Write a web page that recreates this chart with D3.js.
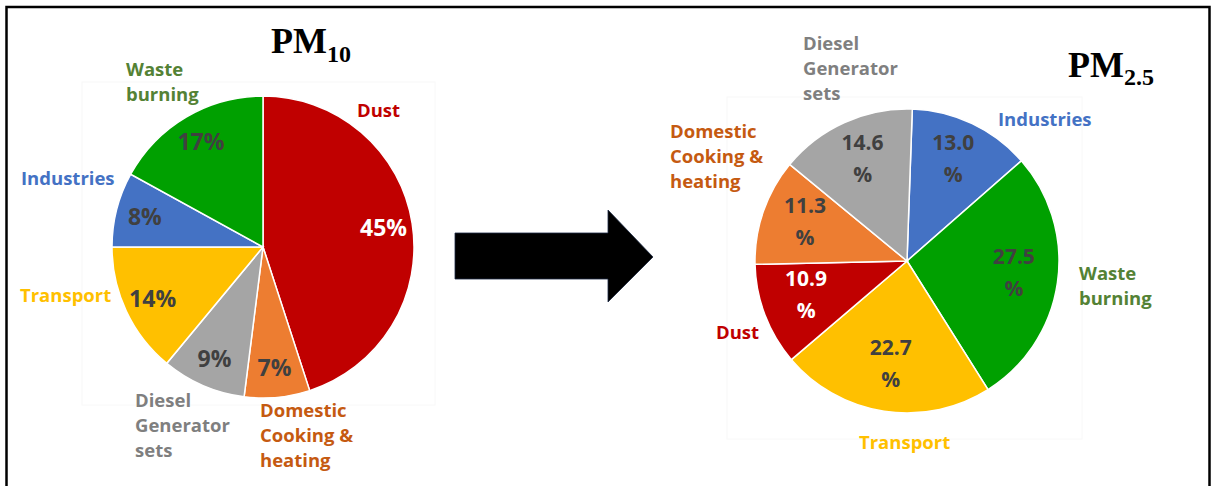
<!DOCTYPE html>
<html>
<head>
<meta charset="utf-8">
<script src="https://cdn.jsdelivr.net/npm/d3@7"></script>
<style>
  body { margin: 0; background: #fff; }
  svg { display: block; }
</style>
</head>
<body>
<svg id="chart" width="1219" height="486"></svg>
<script>
// ---- Data: share of each source (%) ----
const pm10Sources = ["Dust", "Domestic Cooking & heating", "Diesel Generator sets", "Transport", "Industries", "Waste burning"];
const pm10Shares  = [45, 7, 9, 14, 8, 17];

const pm25Sources = ["Industries", "Waste burning", "Transport", "Dust", "Domestic Cooking & heating", "Diesel Generator sets"];
const pm25Shares  = [13.0, 27.5, 22.7, 10.9, 11.3, 14.6];

// ---- Styling ----
const sliceColor = d3.scaleOrdinal()
  .domain(["Dust", "Domestic Cooking & heating", "Diesel Generator sets", "Transport", "Industries", "Waste burning"])
  .range(["#c00000", "#ed7d31", "#a5a5a5", "#ffc000", "#4472c4", "#00a000"]);

const nameColor = d3.scaleOrdinal()
  .domain(sliceColor.domain())
  .range(["#c00000", "#c55a11", "#7f7f7f", "#ffc000", "#4472c4", "#548235"]);

const nameLines = {
  "Dust": ["Dust"],
  "Domestic Cooking & heating": ["Domestic", "Cooking &", "heating"],
  "Diesel Generator sets": ["Diesel", "Generator", "sets"],
  "Transport": ["Transport"],
  "Industries": ["Industries"],
  "Waste burning": ["Waste", "burning"]
};

const svg = d3.select("#chart");

// outer frame
svg.append("rect")
  .attr("x", 6.5).attr("y", 7).attr("width", 1203).attr("height", 520)
  .attr("fill", "none").attr("stroke", "#000").attr("stroke-width", 2.5);

const panels = [
  {
    sources: pm10Sources, shares: pm10Shares,
    cx: 263, cy: 247, r: 151, start: 0, labelR: 122,
    area: [82, 82, 353, 323],
    title: { x: 271, y: 53, sub: "10", subDy: 9 },
    pctSize: 23, twoLine: false,
    fmt: v => d3.format("d")(v) + "%",
    names: {
      "Dust": [357, 117],
      "Domestic Cooking & heating": [260, 417],
      "Diesel Generator sets": [135, 407],
      "Transport": [20, 302],
      "Industries": [21, 185],
      "Waste burning": [126, 76]
    }
  },
  {
    sources: pm25Sources, shares: pm25Shares,
    cx: 907, cy: 261, r: 152, start: 2 * Math.PI / 180, labelR: 108,
    area: [727, 97, 355, 342],
    title: { x: 1068, y: 77, sub: "2.5", subDy: 8 },
    pctSize: 21, twoLine: true,
    fmt: v => d3.format(".1f")(v),
    names: {
      "Dust": [716, 339],
      "Domestic Cooking & heating": [670, 138],
      "Diesel Generator sets": [803, 50],
      "Transport": [859, 449],
      "Industries": [998, 126],
      "Waste burning": [1079, 280]
    }
  }
];

panels.forEach(p => {
  const data = p.sources.map((s, i) => ({ source: s, value: p.shares[i] }));

  // faint plot-area outline
  svg.append("rect")
    .attr("x", p.area[0]).attr("y", p.area[1])
    .attr("width", p.area[2]).attr("height", p.area[3])
    .attr("fill", "none").attr("stroke", "#f8f8f8").attr("stroke-width", 1);

  const pie = d3.pie()
    .sort(null)
    .value(d => d.value)
    .startAngle(p.start)
    .endAngle(p.start + 2 * Math.PI);

  const arc = d3.arc().innerRadius(0).outerRadius(p.r);
  const labelArc = d3.arc().innerRadius(p.labelR).outerRadius(p.labelR);

  const g = svg.append("g").attr("transform", `translate(${p.cx},${p.cy})`);
  const arcs = pie(data);

  g.selectAll("path.slice")
    .data(arcs)
    .join("path")
    .attr("class", "slice")
    .attr("d", arc)
    .attr("fill", d => sliceColor(d.data.source))
    .attr("stroke", "#fff")
    .attr("stroke-width", 1.5);

  // value labels
  const vl = g.selectAll("text.value")
    .data(arcs)
    .join("text")
    .attr("class", "value")
    .attr("font-family", "'Open Sans', sans-serif")
    .attr("font-weight", 700)
    .attr("font-size", p.pctSize)
    .attr("text-anchor", "middle")
    .attr("fill", d => d.data.source === "Dust" ? "#ffffff" : "#404040")
    .attr("transform", d => `translate(${labelArc.centroid(d)})`);

  if (p.twoLine) {
    vl.append("tspan").attr("x", 0).attr("y", -13).text(d => p.fmt(d.data.value));
    vl.append("tspan").attr("x", 0).attr("y", 19).text("%");
  } else {
    vl.attr("y", 8).text(d => p.fmt(d.data.value));
  }

  // source names
  const nl = svg.append("g").selectAll("text.name")
    .data(data)
    .join("text")
    .attr("class", "name")
    .attr("font-family", "'Open Sans', sans-serif")
    .attr("font-weight", 700)
    .attr("font-size", 18.5)
    .attr("fill", d => nameColor(d.source));

  nl.selectAll("tspan")
    .data(d => nameLines[d.source].map((t, i) => ({ t, i, pos: p.names[d.source] })))
    .join("tspan")
    .attr("x", d => d.pos[0])
    .attr("y", d => d.pos[1] + d.i * 25)
    .text(d => d.t);

  // panel title
  const t = svg.append("text")
    .attr("x", p.title.x).attr("y", p.title.y)
    .attr("font-family", "'Liberation Serif', 'Times New Roman', serif")
    .attr("font-weight", 700)
    .attr("font-size", 36)
    .attr("fill", "#000");
  t.append("tspan").text("PM");
  t.append("tspan").attr("font-size", 24).attr("dy", p.title.subDy).text(p.title.sub);
});

// arrow between the two pies
const arrowPts = [[455, 233], [608, 233], [608, 210], [653, 257], [608, 302], [608, 279], [455, 279]];
svg.append("path")
  .attr("d", d3.line()(arrowPts) + "Z")
  .attr("fill", "#000")
  .attr("stroke", "#1c2a44")
  .attr("stroke-width", 0.8);
</script>
</body>
</html>
